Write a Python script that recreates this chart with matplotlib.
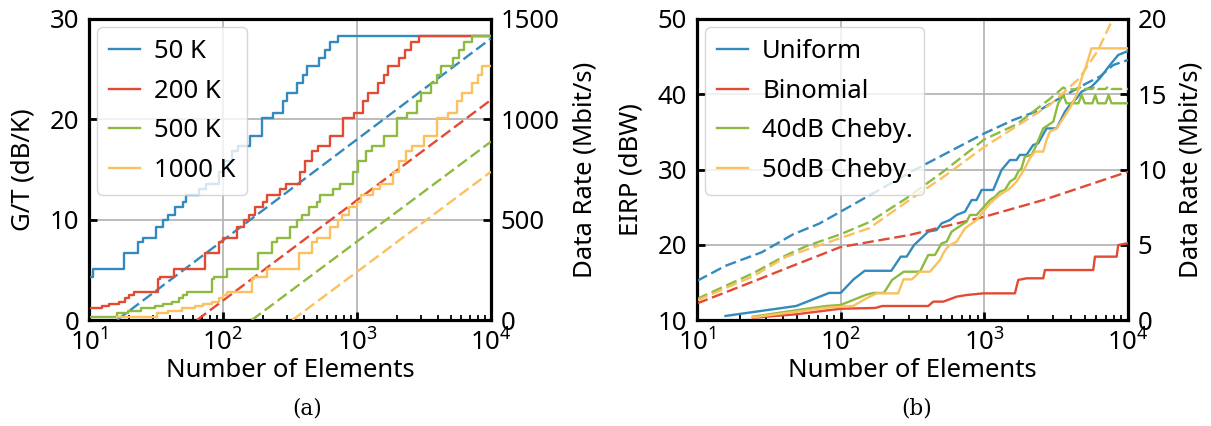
import numpy as np
import matplotlib
matplotlib.use('Agg')
import matplotlib.pyplot as plt

plt.rcParams['font.family'] = ['Noto Sans', 'DejaVu Sans']
plt.rcParams['mathtext.fontset'] = 'custom'
plt.rcParams['mathtext.rm'] = 'Noto Sans'
plt.rcParams['mathtext.it'] = 'Noto Sans:italic'
plt.rcParams['mathtext.bf'] = 'Noto Sans:bold'

# ---------------- data: panel (a) ----------------
temps_labels = ['50 K', '200 K', '500 K', '1000 K']

# DVB step curves: element count where each rate level starts, rate in Mbit/s
a50_n = [10, 10.7, 18.4, 23.2, 25.1, 31.6, 35.9, 38.9, 43.7, 50.1, 53.1, 66.1, 74.1, 93.3, 102, 116,
         129, 158, 197, 237, 279, 302, 359, 398, 427, 519, 575, 631, 724, 10000]
a50_r = [215, 255, 332.5, 390, 407.5, 465, 500, 525, 565, 590, 625, 655, 680, 740, 790, 840,
         865, 915, 1005, 1032.5, 1090, 1130, 1180, 1220, 1265, 1305, 1345, 1385, 1417.5, 1417.5]

a200_n = [10, 12.4, 14.2, 16.7, 18.7, 20.0, 21.5, 32.9, 34.0, 42.9, 73.6, 92.7, 100.5, 126.5, 143.6,
          155.6, 174.6, 200.4, 212.3, 264.2, 296.5, 373.3, 409.3, 464.5, 515.2, 633.9, 788.9, 948.4,
          1114, 1208, 1435, 1592, 1706, 2075, 2301, 2523, 2897, 10000]
a200_r = [60, 70, 80, 90, 110, 125, 137.5, 205, 215, 255, 332.5, 390, 407.5, 465, 500,
          525, 565, 590, 625, 655, 680, 740, 790, 840, 865, 915, 1005, 1032.5,
          1090, 1130, 1180, 1220, 1265, 1305, 1345, 1385, 1417.5, 1417.5]

a500_n = [10, 16.2, 19.5, 24.5, 30.9, 35.5, 41.7, 46.8, 50.1, 53.7, 82.2, 85.1, 107, 184, 232, 251,
          316, 359, 389, 437, 501, 531, 661, 741, 933, 1023, 1161, 1288, 1585, 1972, 2371, 2786,
          3020, 3589, 3981, 4266, 5188, 5754, 6310, 7244, 10000]
a500_r = [16.5, 33.5, 45, 60, 70, 80, 90, 110, 125, 137.5, 205, 215, 255, 332.5, 390, 407.5,
          465, 500, 525, 565, 590, 625, 655, 680, 740, 790, 840, 865, 915, 1005, 1032.5, 1090,
          1130, 1180, 1220, 1265, 1305, 1345, 1385, 1417.5, 1417.5]

a1000_n = [16.2, 32.4, 39.0, 49.1, 61.8, 71.0, 83.4, 93.5, 100.2, 107.4, 164.4, 170.2, 214.3, 368.1,
           463.4, 502.3, 632.4, 717.8, 778.0, 873.0, 1002, 1062, 1321, 1483, 1866, 2046, 2323, 2576,
           3170, 3945, 4742, 5572, 6039, 7178, 7962, 8531, 10000]
a1000_r = [16.5, 33.5, 45, 60, 70, 80, 90, 110, 125, 137.5, 205, 215, 255, 332.5,
           390, 407.5, 465, 500, 525, 565, 590, 625, 655, 680, 740, 790, 840, 865,
           915, 1005, 1032.5, 1090, 1130, 1180, 1220, 1265, 1265]

# Shannon-capacity dashed lines (Mbit/s)
s50_n, s50_r = [16.2, 100, 1000, 10000], [0, 397, 900, 1403]
s200_n, s200_r = [64, 100, 1000, 10000], [0, 97, 597, 1097]
s500_n, s500_r = [164, 1000, 10000], [0, 391, 889]
s1000_n, s1000_r = [329, 1000, 10000], [0, 240, 739]

# ---------------- data: panel (b) ----------------
taper_labels = ['Uniform', 'Binomial', '40dB Cheby.', '50dB Cheby.']

uni_n = [15.8, 49.0, 83.2, 100, 123, 147, 225, 262, 288, 324, 407, 466, 504, 575, 641, 733, 815, 883,
         957, 1153, 1318, 1507, 1675, 1766, 1968, 2188, 2371, 2710, 3184, 3639, 3936, 4385, 4753,
         5572, 6368, 7482, 8551, 10000]
uni_r = [0.27, 0.93, 1.8, 1.8, 2.7, 3.27, 3.27, 4.21, 4.21, 4.98, 5.87, 5.98, 6.42, 6.64, 6.98, 7.2,
         7.97, 7.97, 8.64, 8.64, 9.97, 10.63, 10.63, 10.97, 10.97, 11.63, 11.74, 12.73, 12.73, 13.84,
         14.29, 14.73, 15.17, 15.5, 16.06, 16.94, 17.61, 17.87]

bin_n = [24.5, 49.0, 100, 174, 195, 407, 441, 518, 641, 753, 982, 1633, 1722, 1968, 2570, 2642,
         5728, 5888, 8337, 8551, 10000]
bin_r = [0.15, 0.38, 0.75, 0.8, 0.93, 0.93, 1.22, 1.22, 1.55, 1.66, 1.77, 1.77, 2.66, 2.77, 2.77,
         3.32, 3.32, 4.21, 4.21, 4.98, 5.1]

c40_n = [24.5, 50.1, 79.4, 100, 122, 151, 169, 200, 228, 275, 356, 407, 453, 504, 546, 592, 641,
         752, 794, 883, 1094, 1186, 1282, 1390, 1507, 1633, 1722, 1816, 1914, 2133, 2249, 2570,
         3020, 3266, 3540, 3733, 4519, 4753, 5012, 5649, 5916, 6166, 6998, 7328, 7674, 10000]
c40_r = [0.22, 0.66, 0.93, 1.0, 1.33, 1.68, 1.8, 1.8, 2.66, 3.21, 3.21, 4.32, 4.32, 5.09, 5.2, 5.87,
         6.09, 6.53, 6.98, 6.98, 7.97, 8.19, 8.53, 8.64, 9.19, 9.41, 9.86, 10.08, 10.85, 10.97,
         11.41, 12.73, 13.18, 14.4, 14.95, 14.4, 14.4, 14.95, 14.4, 14.4, 14.95, 14.4, 14.4, 14.95,
         14.4, 14.4]

c50_n = [24.5, 49.0, 79.4, 100, 122, 151, 178, 251, 274, 313, 356, 418, 491, 518, 546, 575, 641,
         733, 883, 982, 1094, 1282, 1507, 1675, 1914, 2075, 2249, 2570, 2710, 2858, 3184, 3540,
         3936, 4385, 4753, 5140, 5572, 10000]
c50_r = [0.18, 0.55, 0.82, 0.88, 0.93, 1.44, 1.77, 1.77, 2.7, 2.7, 3.21, 3.21, 3.98, 4.43, 4.76,
         4.98, 5.2, 6.09, 6.64, 7.2, 7.75, 8.31, 8.75, 9.19, 10.08, 10.74, 11.19, 11.19, 11.96,
         12.51, 12.73, 13.4, 14.07, 14.95, 16.06, 16.94, 18.05, 18.05]

uni_d_n = [10, 15.8, 28.2, 46.8, 70.8, 100, 316, 1000, 1589, 2438, 3184, 5152, 6368, 7889, 10000]
uni_d_r = [2.6, 3.6, 4.5, 5.7, 6.4, 7.2, 9.9, 12.4, 13.29, 13.95, 14.62, 15.73, 16.17, 16.94, 17.28]

bin_d_n = [10, 24.5, 41.7, 100, 302, 1000, 2570, 10000]
bin_d_r = [1.1, 2.55, 3.43, 4.85, 5.65, 6.86, 7.97, 9.85]

c40_d_n = [10, 24.5, 41.7, 57.5, 100, 158, 288, 518, 1000, 1679, 2864, 3548, 3758, 4519, 4753,
           5012, 5649, 5916, 6166, 6998, 7328, 7674, 10000]
c40_d_r = [1.4, 3.1, 4.3, 4.9, 5.7, 6.5, 8.1, 9.86, 12.0, 13.0, 14.7, 15.45, 15.3, 15.35, 15.55,
           15.35, 15.35, 15.55, 15.35, 15.35, 15.55, 15.35, 15.35]

c50_d_n = [10, 24.5, 41.7, 100, 158, 288, 518, 1000, 2864, 3548, 4571, 6166, 7568]
c50_d_r = [1.3, 2.9, 4.2, 5.45, 6.1, 7.85, 9.5, 11.5, 14.3, 15.1, 16.05, 17.9, 19.7]

# ---------------- styling ----------------
COLORS = ['#348ABD', '#E24A33', '#8EBA42', '#FBC15E']
FS = 18.5
LW = 1.7
DASH = (4.8, 2.0)

W, H = 1211, 426
fig = plt.figure(figsize=(W / 100, H / 100), dpi=100)
axL = fig.add_axes([89 / W, 106 / H, 402 / W, 301 / H])
axR = fig.add_axes([697 / W, 106 / H, 431 / W, 301 / H])


def style(ax, ylim, yticks):
    ax.set_xscale('log')
    ax.set_xlim(10, 1e4)
    ax.set_ylim(*ylim)
    ax.set_yticks(yticks)
    ax.grid(True, which='major', color='#b0b0b0', lw=1.2)
    for s in ax.spines.values():
        s.set_linewidth(2.3)
    ax.tick_params(which='major', direction='in', length=6, width=2, labelsize=FS, pad=7)
    ax.tick_params(axis='x', which='minor', direction='in', length=3.5, width=1.3)
    ax.tick_params(axis='y', which='minor', left=False, right=False)


def twin(ax, ylim, yticks):
    tw = ax.twinx()
    tw.set_ylim(*ylim)
    tw.set_yticks(yticks)
    tw.tick_params(axis='y', which='major', direction='in', length=6, width=2, labelsize=FS, pad=7)
    tw.tick_params(axis='y', which='minor', right=False)
    return tw


style(axL, (0, 30), [0, 10, 20, 30])
twL = twin(axL, (0, 1500), [0, 500, 1000, 1500])
style(axR, (10, 50), [10, 20, 30, 40, 50])
twR = twin(axR, (0, 20), [0, 5, 10, 15, 20])

LEG = dict(loc='upper left', fontsize=FS, handlelength=1.2, handletextpad=0.55,
           borderaxespad=0.33, labelspacing=0.57, borderpad=0.45, framealpha=0.8, edgecolor='0.8')

# panel (a)
steps_a = [(a50_n, a50_r), (a200_n, a200_r), (a500_n, a500_r), (a1000_n, a1000_r)]
dash_a = [(s50_n, s50_r), (s200_n, s200_r), (s500_n, s500_r), (s1000_n, s1000_r)]
handles = []
for (n, r), (dn, dr), c, lab in zip(steps_a, dash_a, COLORS, temps_labels):
    h, = twL.step(n, r, where='post', color=c, lw=LW, label=lab)
    twL.plot(dn, dr, color=c, lw=LW, ls=(0, DASH))
    handles.append(h)
twL.legend(handles=handles, **LEG)

# panel (b)
lines_b = [(uni_n, uni_r), (bin_n, bin_r), (c40_n, c40_r), (c50_n, c50_r)]
dash_b = [(uni_d_n, uni_d_r), (bin_d_n, bin_d_r), (c40_d_n, c40_d_r), (c50_d_n, c50_d_r)]
handles = []
for (n, r), (dn, dr), c, lab in zip(lines_b, dash_b, COLORS, taper_labels):
    h, = twR.plot(n, r, color=c, lw=LW, label=lab)
    twR.plot(dn, dr, color=c, lw=LW, ls=(0, DASH))
    handles.append(h)
twR.legend(handles=handles, **LEG)

# labels
axL.set_xlabel('Number of Elements', fontsize=FS)
axR.set_xlabel('Number of Elements', fontsize=FS)
axL.xaxis.set_label_coords(0.5, -0.125)
axR.xaxis.set_label_coords(0.5, -0.125)
axL.set_ylabel('G/T (dB/K)', fontsize=FS)
axL.yaxis.set_label_coords(-0.132, 0.5)
twL.set_ylabel('Data Rate (Mbit/s)', fontsize=FS)
twL.yaxis.set_label_coords(1.2015, 0.5)
axR.set_ylabel('EIRP (dBW)', fontsize=FS)
axR.yaxis.set_label_coords(-0.123, 0.5)
twR.set_ylabel('Data Rate (Mbit/s)', fontsize=FS)
twR.yaxis.set_label_coords(1.118, 0.5)

fig.text(307 / W, 1 - 409 / H, '(a)', ha='center', va='center', family='DejaVu Serif', fontsize=15.5)
fig.text(917 / W, 1 - 409 / H, '(b)', ha='center', va='center', family='DejaVu Serif', fontsize=15.5)

fig.savefig('out.png', dpi=100)
